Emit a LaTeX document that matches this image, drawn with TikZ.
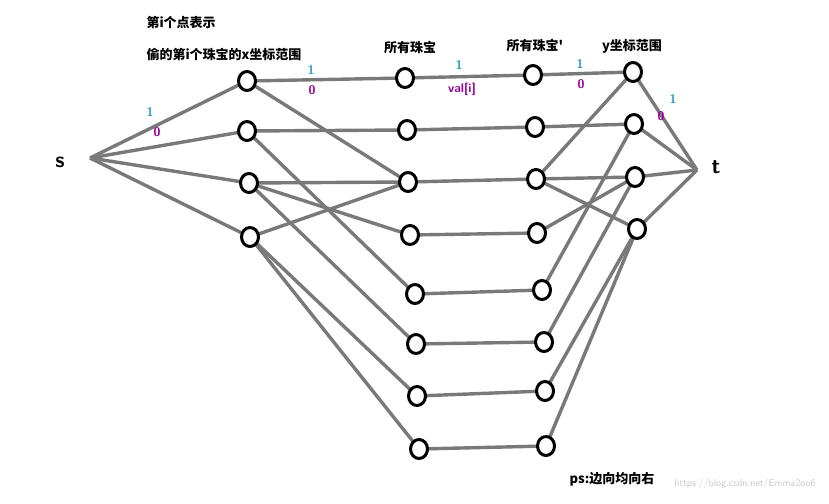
\documentclass[tikz,border=0pt]{standalone}
\usepackage{fontspec}
\newfontfamily\cjk{Noto Sans CJK SC}
\usetikzlibrary{shapes.geometric}
\begin{document}
\begin{tikzpicture}[x=1pt,y=-1pt,
  nd/.style={draw=black,line width=3pt,fill=white,ellipse,minimum width=17pt,minimum height=19pt,inner sep=0pt},
  ed/.style={draw=gray!95!black,line width=3.4pt},
  lb/.style={font=\cjk\bfseries\fontsize{13}{15}\selectfont},
  one/.style={font=\sffamily\bfseries\fontsize{12.5}{14}\selectfont,text=blue!30!cyan!60!gray},
  zero/.style={font=\sffamily\bfseries\fontsize{12.5}{14}\selectfont,text=violet!80!magenta}]
\useasboundingbox (0,0) rectangle (829,503);
\coordinate (s) at (90,158);
\coordinate (t) at (697,170);
\foreach \i/\x/\y in {1/247/81,2/247/131,3/249/183,4/250/237}
  \coordinate (A\i) at (\x,\y);
\foreach \i/\x/\y in {1/405/78,2/407/130,3/408/182,4/410/235,5/415/294,6/416/344,7/417/396,8/419/449}
  \coordinate (B\i) at (\x,\y);
\foreach \i/\x/\y in {1/533/75,2/535/127,3/536/179,4/537/233,5/542/290,6/544/342,7/545/391,8/546/446}
  \coordinate (C\i) at (\x,\y);
\foreach \i/\x/\y in {1/633/72,2/634/124,3/635/177,4/637/229}
  \coordinate (D\i) at (\x,\y);
\foreach \i in {1,...,4} {\draw[ed] (s) -- (A\i); \draw[ed] (D\i) -- (t);}
\foreach \i in {1,...,8} \draw[ed] (B\i) -- (C\i);
\foreach \a/\b in {1/1,1/3,2/2,2/5,3/3,3/4,3/6,4/3,4/7,4/8} \draw[ed] (A\a) -- (B\b);
\foreach \c/\d in {1/1,2/2,3/1,3/3,3/4,4/3,5/2,6/3,7/4,8/4} \draw[ed] (C\c) -- (D\d);
\foreach \n in {A1,A2,A3,A4,B1,B2,B3,B4,B5,B6,B7,B8,C1,C2,C3,C4,C5,C6,C7,C8,D1,D2,D3,D4}
  \node[nd] (n\n) at (\n) {};
\node[font=\sffamily\bfseries\fontsize{22}{24}\selectfont] (ls) at (60,162) {s};
\node[font=\sffamily\bfseries\fontsize{22}{24}\selectfont] (lt) at (716,167) {t};
\node[one] (o1) at (150,112) {1}; \node[zero] (z1) at (157,132) {0};
\node[one] (o2) at (311,70) {1}; \node[zero] (z2) at (312,90) {0};
\node[one] (o3) at (459,65) {1}; \node[zero] (z3) at (462,89) {val[i]};
\node[one] (o4) at (580,64) {1}; \node[zero] (z4) at (581,84) {0};
\node[one] (o5) at (673,99) {1}; \node[zero] (z5) at (661,116) {0};
\node[lb,anchor=west] (h1) at (143,23) {第i个点表示};
\node[lb,anchor=west] (h2) at (143,54) {偷的第i个珠宝的x坐标范围};
\node[lb] (h3) at (410,48) {所有珠宝};
\node[lb] (h4) at (535,46) {所有珠宝'};
\node[lb] (h5) at (632,46) {y坐标范围};
\node[lb] (h6) at (612,479) {ps:边向均向右};
\node[font=\sffamily\fontsize{10}{12}\selectfont,text=gray!45] (w) at (745,484) {https://blog.csdn.net/Emma2oo6};
\end{tikzpicture}
\end{document}
